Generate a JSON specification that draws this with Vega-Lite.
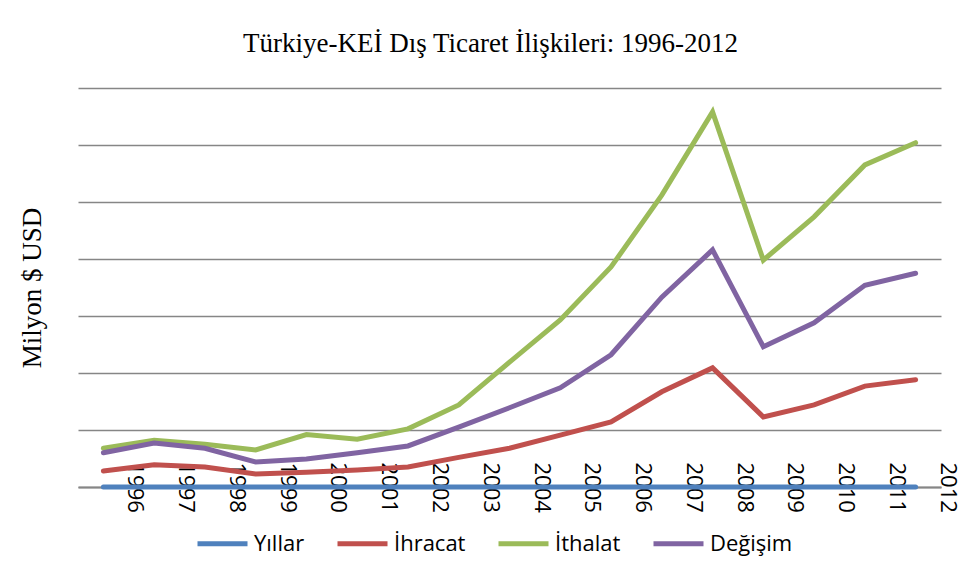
{
  "$schema": "https://vega.github.io/schema/vega-lite/v6.json",
  "width": 863,
  "height": 399,
  "autosize": {"type": "none"},
  "padding": {"left": 78, "top": 88, "right": 17, "bottom": 90},
  "background": "white",
  "config": {"view": {"stroke": null}},
  "title": {
    "text": "Türkiye-KEİ Dış Ticaret İlişkileri: 1996-2012",
    "font": "Liberation Serif",
    "fontSize": 27,
    "fontWeight": "normal",
    "color": "black",
    "anchor": "middle",
    "dx": -19,
    "offset": 30
  },
  "data": {
    "values": [
      {"year": "1996", "Yıllar": 0, "İhracat": 2800, "İthalat": 6800, "Değişim": 6000},
      {"year": "1997", "Yıllar": 0, "İhracat": 3900, "İthalat": 8200, "Değişim": 7700},
      {"year": "1998", "Yıllar": 0, "İhracat": 3500, "İthalat": 7500, "Değişim": 6800},
      {"year": "1999", "Yıllar": 0, "İhracat": 2300, "İthalat": 6500, "Değişim": 4400},
      {"year": "2000", "Yıllar": 0, "İhracat": 2600, "İthalat": 9200, "Değişim": 4900},
      {"year": "2001", "Yıllar": 0, "İhracat": 3000, "İthalat": 8400, "Değişim": 6000},
      {"year": "2002", "Yıllar": 0, "İhracat": 3500, "İthalat": 10200, "Değişim": 7200},
      {"year": "2003", "Yıllar": 0, "İhracat": 5200, "İthalat": 14400, "Değişim": 10500},
      {"year": "2004", "Yıllar": 0, "İhracat": 6800, "İthalat": 21900, "Değişim": 13900},
      {"year": "2005", "Yıllar": 0, "İhracat": 9100, "İthalat": 29300, "Değişim": 17400},
      {"year": "2006", "Yıllar": 0, "İhracat": 11400, "İthalat": 38600, "Değişim": 23200},
      {"year": "2007", "Yıllar": 0, "İhracat": 16700, "İthalat": 51200, "Değişim": 33300},
      {"year": "2008", "Yıllar": 0, "İhracat": 20900, "İthalat": 65800, "Değişim": 41600},
      {"year": "2009", "Yıllar": 0, "İhracat": 12300, "İthalat": 39800, "Değişim": 24600},
      {"year": "2010", "Yıllar": 0, "İhracat": 14400, "İthalat": 47400, "Değişim": 28800},
      {"year": "2011", "Yıllar": 0, "İhracat": 17700, "İthalat": 56500, "Değişim": 35400},
      {"year": "2012", "Yıllar": 0, "İhracat": 18800, "İthalat": 60400, "Değişim": 37500}
    ]
  },
  "transform": [
    {"fold": ["Yıllar", "İhracat", "İthalat", "Değişim"], "as": ["series", "value"]}
  ],
  "mark": {"type": "line", "strokeWidth": 5, "strokeCap": "round"},
  "encoding": {
    "x": {
      "field": "year",
      "type": "ordinal",
      "bandPosition": 0.5,
      "scale": {"type": "band", "paddingInner": 0, "paddingOuter": 0},
      "axis": {
        "title": null,
        "labelAngle": 90,
        "labelAlign": "left",
        "labelBaseline": "middle",
        "labelOffset": 32,
        "labelPadding": -25,
        "ticks": false,
        "grid": false,
        "domainColor": "#868686",
        "domainWidth": 2,
        "labelFont": "Open Sans",
        "labelFontSize": 22,
        "labelColor": "black"
      }
    },
    "y": {
      "field": "value",
      "type": "quantitative",
      "scale": {"domain": [0, 70000], "nice": false},
      "axis": {
        "title": "Milyon $ USD",
        "titleFont": "Liberation Serif",
        "titleFontSize": 27,
        "titleFontWeight": "normal",
        "titleColor": "black",
        "titlePadding": 32,
        "labels": false,
        "ticks": false,
        "domain": false,
        "grid": true,
        "gridColor": "#868686",
        "gridWidth": 1.5,
        "values": [0, 10000, 20000, 30000, 40000, 50000, 60000, 70000]
      }
    },
    "color": {
      "field": "series",
      "type": "nominal",
      "sort": ["Yıllar", "İhracat", "İthalat", "Değişim"],
      "scale": {
        "domain": ["Yıllar", "İhracat", "İthalat", "Değişim"],
        "range": ["#4F81BD", "#C0504D", "#9BBB59", "#8064A2"]
      },
      "legend": {
        "title": null,
        "orient": "none",
        "legendX": 117,
        "legendY": 428,
        "direction": "horizontal",
        "symbolType": "stroke",
        "symbolSize": 2500,
        "symbolStrokeWidth": 5,
        "labelFont": "Open Sans",
        "labelFontSize": 22,
        "labelColor": "black",
        "labelOffset": 4,
        "columnPadding": 22,
        "labelLimit": 300
      }
    }
  }
}
